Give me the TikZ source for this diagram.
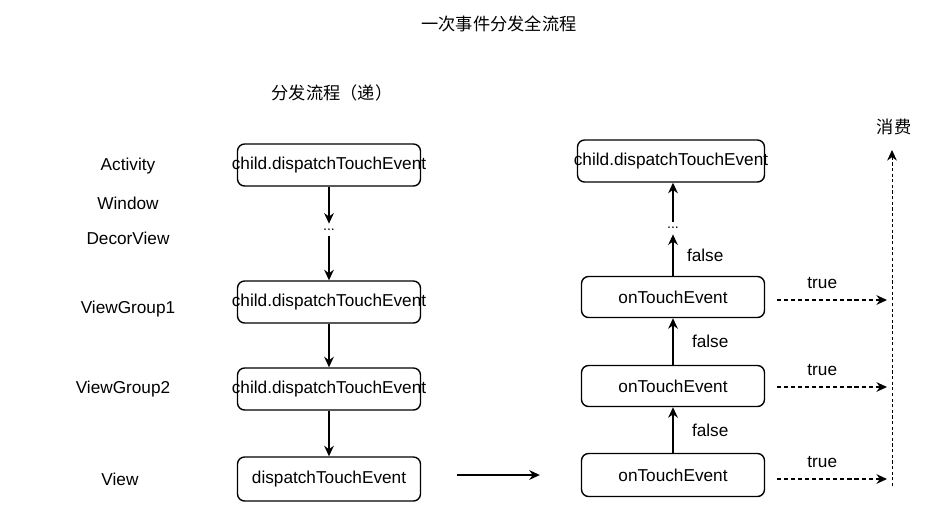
\documentclass[tikz,border=0pt]{standalone}
\usepackage{fontspec}
\setmainfont{Liberation Sans}
\newfontfamily\cjk{Noto Sans CJK SC}
\usetikzlibrary{arrows.meta}

\tikzset{
  box/.style={draw, line width=0.8pt, rounded corners=4pt, minimum width=3.66cm, minimum height=0.84cm, inner sep=0pt},
  flow/.style={line width=0.8pt, -{Stealth[length=6pt,width=5.5pt]}},
  hit/.style={flow, dash pattern=on 2.3pt off 1.7pt},
  dots/.style={inner sep=3pt, font=\fontsize{8}{8}\selectfont},
}
\newcommand{\overtext}[1]{\makebox[0pt]{#1}}

\begin{document}
\begin{tikzpicture}[x=0.02cm, y=-0.02cm, font=\fontsize{9.8}{11.5}\selectfont]
  \useasboundingbox (0,0) rectangle (941,529);

  % titles
  \node (title) at (499,24) {\cjk 一次事件分发全流程};
  \node (dispatch) at (332,93) {\cjk 分发流程（递）};
  \node (consume) at (894,127) {\cjk 消费};

  % layers
  \node (activity) at (128,166) {Activity};
  \node (window) at (128,203) {Window};
  \node (decor) at (128,238) {DecorView};
  \node (group1) at (128,309) {ViewGroup1};
  \node (group2) at (123,389) {ViewGroup2};
  \node (view) at (120,479) {View};

  % dispatch down
  \node[box] (d1) at (329,165) {\overtext{child.dispatchTouchEvent}};
  \node[dots] (ddots) at (329,230) {...};
  \node[box] (d2) at (329,302) {\overtext{child.dispatchTouchEvent}};
  \node[box] (d3) at (329,389) {\overtext{child.dispatchTouchEvent}};
  \node[box, minimum height=0.88cm] (d4) at (329,479) {dispatchTouchEvent};

  \draw[flow] (d1) -- (ddots);
  \draw[flow] (ddots) -- (d2);
  \draw[flow] (d2) -- (d3);
  \draw[flow] (d3) -- (d4);

  % bubble up
  \node[box, minimum height=0.86cm] (r1) at (673,475) {onTouchEvent};
  \node[box, minimum height=0.82cm] (r2) at (673,386) {onTouchEvent};
  \node[box, minimum height=0.82cm] (r3) at (673,297) {onTouchEvent};
  \node[dots] (rdots) at (673,228) {...};
  \node[box, minimum width=3.74cm] (r4) at (671,161) {\overtext{child.dispatchTouchEvent}};

  \draw[flow, shorten <=0.72cm, shorten >=0.82cm] (d4.east |- r1) -- (r1.west);

  \draw[flow] (r1) -- (r2) node[midway, right, xshift=0.25cm] {false};
  \draw[flow] (r2) -- (r3) node[midway, right, xshift=0.25cm] {false};
  \draw[flow] (r3) -- (rdots) node[midway, right, xshift=0.15cm] {false};
  \draw[flow] (rdots) -- (r4.south -| rdots);

  % consumed
  \coordinate (c1) at (892,479);
  \coordinate (c2) at (892,387);
  \coordinate (c3) at (892,300);
  \coordinate (cbot) at (892,486);
  \coordinate (ctop) at (892,150);

  \draw[hit, shorten <=0.24cm, shorten >=0.1cm] (r1.east |- c1) -- (c1) node[pos=0.45, above=3pt] {true};
  \draw[hit, shorten <=0.24cm, shorten >=0.1cm] (r2.east |- c2) -- (c2) node[pos=0.45, above=3pt] {true};
  \draw[hit, shorten <=0.24cm, shorten >=0.1cm] (r3.east |- c3) -- (c3) node[pos=0.45, above=3pt] {true};
  \draw[flow, line width=0.5pt, dash pattern=on 1.8pt off 1.4pt] (cbot) -- (ctop);
\end{tikzpicture}
\end{document}
